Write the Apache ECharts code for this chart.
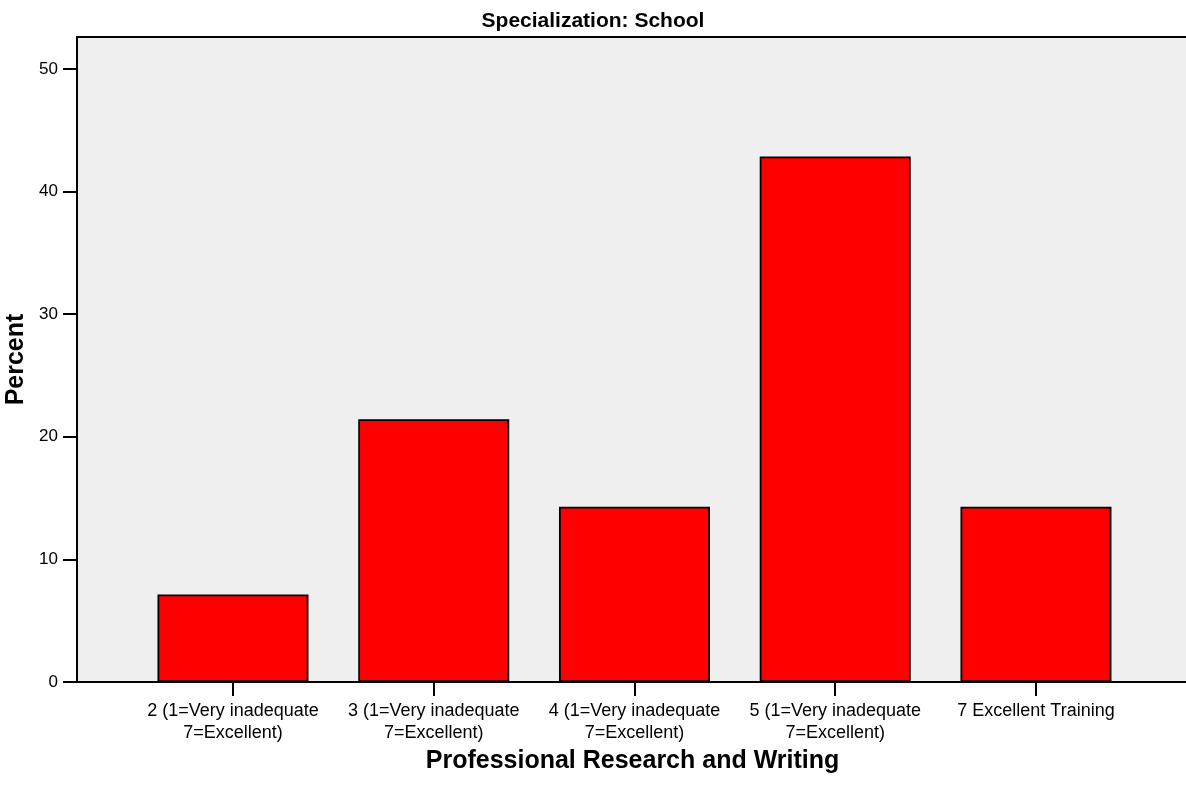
<!DOCTYPE html>
<html>
<head>
<meta charset="utf-8">
<script src="https://cdn.jsdelivr.net/npm/echarts@6/dist/echarts.min.js"></script>
<style>
html,body{margin:0;padding:0;background:#fff;}
#chart{width:1186px;height:794px;}
</style>
</head>
<body>
<div id="chart"></div>
<script>
const categories = [
  "2 (1=Very inadequate\n7=Excellent)",
  "3 (1=Very inadequate\n7=Excellent)",
  "4 (1=Very inadequate\n7=Excellent)",
  "5 (1=Very inadequate\n7=Excellent)",
  "7 Excellent Training"
];
const percents = [7.14, 21.43, 14.29, 42.86, 14.29];
const yTicks = [0, 10, 20, 30, 40, 50];
const chartTitle = "Specialization: School";
const xTitle = "Professional Research and Writing";
const yTitle = "Percent";

const FONT = "'Liberation Sans', Arial, sans-serif";
const YMAX = 52.6;

const chart = echarts.init(document.getElementById('chart'));
chart.setOption({
  animation: false,
  backgroundColor: '#ffffff',
  title: {
    text: chartTitle,
    left: 'center',
    top: 6,
    textStyle: { fontFamily: FONT, fontSize: 21, fontWeight: 'bold', color: '#000' }
  },
  grid: [
    { left: 77, right: -2, top: 37, bottom: 112, show: true, backgroundColor: '#efefef', borderColor: '#000', borderWidth: 2, outerBoundsMode: 'none', containLabel: false },
    { left: 132.6, width: 1003.75, top: 37, bottom: 112, outerBoundsMode: 'none', containLabel: false }
  ],
  xAxis: [
    {
      gridIndex: 0, type: 'value', min: 0, max: 1,
      axisLine: { show: true, lineStyle: { color: '#000', width: 2 } },
      axisTick: { show: false }, axisLabel: { show: false }, splitLine: { show: false },
      name: xTitle, nameLocation: 'middle', nameGap: 67,
      nameTextStyle: { fontFamily: FONT, fontSize: 25, fontWeight: 'bold', color: '#000' }
    },
    {
      gridIndex: 1, type: 'category', data: categories,
      axisLine: { show: false },
      axisTick: { show: true, alignWithLabel: true, length: 14, lineStyle: { color: '#000', width: 2 } },
      axisLabel: { margin: 18, fontFamily: FONT, fontSize: 18, color: '#000', lineHeight: 22, interval: 0 }
    }
  ],
  yAxis: [
    {
      gridIndex: 0, type: 'value', min: 0, max: YMAX, interval: 10,
      axisLine: { show: true, lineStyle: { color: '#000', width: 2 } },
      axisTick: { show: true, length: 14, customValues: yTicks, lineStyle: { color: '#000', width: 2 } },
      axisLabel: { margin: 19, customValues: yTicks, fontFamily: FONT, fontSize: 17, color: '#000' },
      splitLine: { show: false },
      name: yTitle, nameLocation: 'middle', nameGap: 42,
      nameTextStyle: { fontFamily: FONT, fontSize: 25, fontWeight: 'bold', color: '#000' }
    },
    {
      gridIndex: 1, type: 'value', min: 0, max: YMAX, show: false, splitLine: { show: false }
    }
  ],
  series: [{
    type: 'bar',
    xAxisIndex: 1, yAxisIndex: 1,
    data: percents,
    barWidth: 151,
    itemStyle: { color: '#ff0000', borderColor: '#000', borderWidth: 1.8 },
    z: 3
  }]
});
</script>
</body>
</html>
